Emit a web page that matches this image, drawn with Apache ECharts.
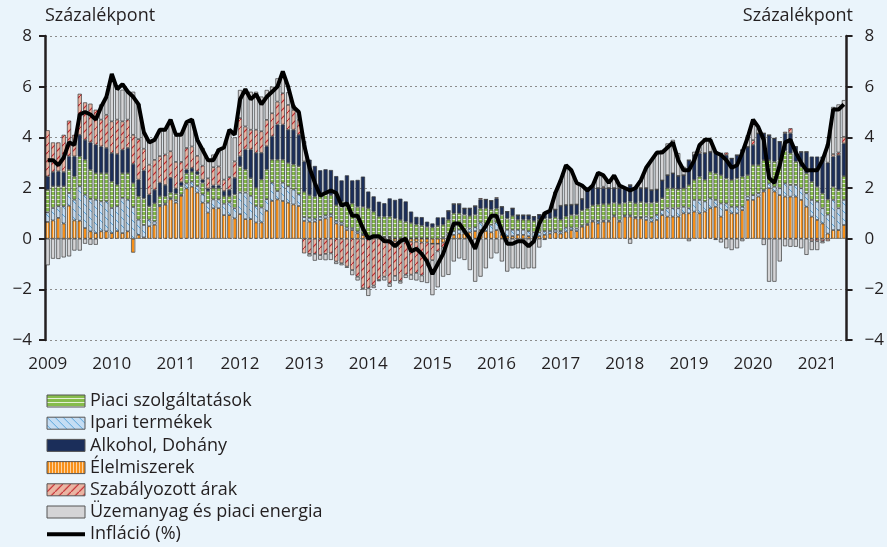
<!DOCTYPE html>
<html><head><meta charset="utf-8">
<script src="https://cdn.jsdelivr.net/npm/echarts@6/dist/echarts.min.js"></script>
<style>html,body{margin:0;padding:0;background:#EAF4FB;}#c{width:887px;height:547px;}</style>
</head><body><div id="c"></div>
<script>
// ---- DATA ----
const years = [2009,2010,2011,2012,2013,2014,2015,2016,2017,2018,2019,2020,2021];
const monthsInLastYear = 6;
const yTicks = [-4,-2,0,2,4,6,8];

const food = [
 .66,.72,.82,.60,1.30,.72,.71,.42,.29,.22,.29,.29,
 .22,.30,.22,.29,-.55,.15,.05,.49,.55,1.28,1.34,1.55,
 1.42,1.69,1.98,2.05,1.82,1.42,1.03,1.20,1.20,.93,.93,.80,
 .97,.77,.77,.64,.64,1.10,1.49,1.55,1.49,1.42,1.35,1.29,
 .70,.67,.67,.74,.80,.87,.60,.54,.34,.34,.21,.14,
 .08,.06,.05,.05,.05,-.10,-.10,-.12,-.12,-.12,-.15,-.15,
 -.20,-.20,-.15,.10,.15,.20,.20,.25,.30,.34,.30,.25,
 .34,.15,.10,.10,.15,.15,.10,.05,.10,.15,.20,.25,
 .20,.28,.34,.30,.47,.54,.67,.60,.67,.67,.87,.67,
 .87,.87,.80,.80,.74,.67,.74,.93,.87,.87,.87,1.00,
 1.00,1.07,1.00,1.07,1.20,1.26,.87,1.13,1.00,1.00,1.13,1.53,
 1.53,1.66,1.86,1.99,1.86,1.72,1.66,1.66,1.66,1.53,1.26,.87,
 .74,.60,.20,.34,.34,.54];
const industrial = [
 .38,.49,.46,.68,.50,.82,1.36,1.32,1.28,1.32,1.18,1.18,
 .99,.98,1.39,1.25,1.25,.60,.49,.26,.13,.05,.05,.05,
 .10,.05,.20,.20,.26,.33,.39,.35,.35,.45,.50,.40,
 .85,1.05,.92,.65,.59,.46,.72,.33,.72,.65,.59,.46,
 .15,.15,.12,.12,.12,.10,.10,.10,.10,.08,.08,.05,
 .03,.02,.02,.02,.02,.02,.02,.02,.02,.02,.02,.02,
 0,0,.05,.10,.15,.15,.15,.15,.15,.30,.30,.30,
 .30,.30,.25,.25,.20,.20,.20,.20,.15,.15,.10,.10,
 .10,.15,.10,.10,.05,.05,.05,.10,.05,.05,.05,.05,
 .05,.05,.05,.05,.13,.15,.20,.20,.33,.33,.33,.26,
 .20,.46,.53,.40,.39,.27,.52,.26,.26,.26,.13,.13,
 .19,.13,.06,.19,.19,.27,.52,.46,.46,.46,.53,.66,
 .72,.60,.75,1.19,.86,.99];
const services = [
 .89,.86,.79,.79,.92,.92,1.18,1.38,1.15,1.05,1.12,1.12,
 1.05,.85,.98,1.05,.95,.92,1.05,.53,.72,.35,.28,.22,
 .26,.34,.40,.39,.46,.46,.46,.45,.45,.30,.25,.55,
 1.04,.91,.70,.72,1.11,1.17,.91,1.24,.91,.92,.99,1.11,
 1.00,.90,.87,.86,.87,.75,.62,.82,.95,.97,.97,1.07,
 1.09,.99,.80,.80,.80,.78,.72,.65,.60,.54,.50,.45,
 .45,.50,.50,.55,.70,.65,.60,.50,.50,.55,.60,.60,
 .55,.50,.45,.55,.40,.40,.45,.45,.50,.50,.50,.50,
 .45,.45,.50,.55,.60,.60,.60,.65,.65,.65,.50,.65,
 .50,.55,.55,.60,.55,.60,.50,.47,.79,.79,.75,.73,
 .92,.79,.92,.86,1.05,1.05,1.12,.99,1.06,1.12,1.19,.85,
 1.19,1.12,1.18,.92,.99,1.10,1.30,1.25,.92,.85,.79,.72,
 .59,.59,.60,.52,.72,.94];
const alcohol = [
 .53,.56,.59,.56,.53,.79,.85,.78,1.08,1.12,1.05,.99,
 1.12,1.21,.92,.99,.75,.66,1.10,.46,.53,.53,.45,.58,
 .20,.15,.15,.15,.12,.12,.10,.10,.10,.20,.25,.65,
 .39,.79,1.13,1.38,1.05,.92,.92,1.38,1.38,1.31,1.37,1.24,
 1.20,1.40,1.21,.98,.95,.99,1.15,.84,1.11,.91,1.06,1.19,
 .66,.60,.59,.53,.72,.73,.84,.80,.45,.30,.33,.20,
 .15,.34,.29,.35,.37,.37,.25,.30,.34,.36,.35,.35,
 .40,.31,.27,.30,.18,.18,.18,.17,.20,.22,.25,.30,
 .55,.45,.40,.40,.45,.80,.70,.65,.63,.63,.58,.63,
 .60,.65,.60,.55,.58,.50,.50,.70,.52,.59,.53,.52,
 .98,.98,.92,1.05,.79,.85,.86,.92,.85,.92,1.05,1.12,
 .79,1.25,1.06,.99,.92,.74,.68,.79,.59,.59,.85,.99,
 1.19,1.45,1.45,1.19,1.38,1.29];
const regulated = [
 1.82,1.17,1.14,1.47,1.41,.85,1.62,1.48,1.53,1.38,1.06,1.31,
 1.25,1.36,1.12,1.12,1.15,1.60,.86,1.18,1.18,1.05,1.20,1.05,
 1.05,.80,.85,.85,.61,.55,.40,.72,.75,.45,.50,.65,
 1.51,.91,.78,.91,.85,1.04,.91,.91,1.24,.98,.78,.59,
 -.58,-.60,-.60,-.65,-.60,-.58,-.90,-.97,-1.10,-1.24,-1.50,-1.96,
 -1.96,-1.85,-1.63,-1.50,-1.76,-1.37,-1.57,-1.30,-1.30,-1.23,-1.30,-.90,
 -.65,-.30,-.20,0,0,0,0,0,0,.05,0,0,
 .04,0,0,0,0,0,0,0,0,0,0,0,
 0,0,0,0,0,0,0,0,.05,0,0,0,
 0,0,0,0,0,0,0,0,0,0,0,0,
 0,0,.07,0,0,0,0,.10,0,0,0,0,
 .19,0,0,0,0,0,.06,.20,0,0,0,-.10,
 -.10,-.10,-.10,.10,.10,.26];
const fuel = [
 -1.05,-.79,-.80,-.74,-.70,-.47,-.47,-.20,-.24,-.24,.60,.70,
 1.58,1.31,1.25,1.12,1.70,1.40,.65,.92,.79,.99,.95,1.24,
 1.02,1.15,.95,1.07,.65,.70,.75,.50,.70,1.30,1.70,.95,
 1.11,1.31,1.50,1.50,1.37,1.18,1.05,.92,.78,.50,.20,.30,
 .80,-.10,-.27,-.18,-.25,-.26,-.10,-.08,-.05,-.20,-.15,-.05,
 -.30,-.10,-.05,-.15,-.14,-.20,-.10,-.13,-.20,-.30,-.26,-.70,
 -1.38,-1.42,-1.15,-1.43,-.90,-.78,-.84,-1.24,-1.70,-1.50,-1.17,-.78,
 -.58,-.90,-1.30,-1.17,-1.17,-1.20,-1.17,-1.17,-.35,-.05,.05,.70,
 1.00,1.55,1.35,.85,.55,0,.05,.60,.40,.20,.50,.10,
 0,-.20,0,.30,.80,1.20,1.45,1.20,1.25,1.32,.90,.33,
 -.10,.13,.25,.59,.45,-.05,-.15,-.38,-.45,-.38,-.10,.45,
 .66,.20,-.25,-1.70,-1.70,-.90,-.30,-.32,-.32,-.38,-.64,-.35,
 -.35,-.08,.75,1.86,1.90,1.45];
const inflation = [
 3.1,3.1,2.9,3.2,3.8,3.7,4.9,5.0,4.9,4.7,5.2,5.6,
 6.5,5.9,6.1,5.8,5.6,5.3,4.2,3.8,3.9,4.3,4.3,4.7,
 4.1,4.1,4.6,4.7,3.9,3.5,3.1,3.1,3.5,3.6,4.3,4.1,
 5.5,5.9,5.5,5.7,5.3,5.6,5.8,6.0,6.6,6.0,5.2,5.0,
 3.7,2.8,2.2,1.7,1.8,1.9,1.8,1.3,1.4,0.9,0.9,0.4,
 0.0,0.1,0.1,-0.1,-0.1,-0.3,-0.1,0.0,-0.5,-0.4,-0.6,-0.9,
 -1.4,-1.0,-0.6,0.0,0.6,0.6,0.3,0.0,-0.4,0.2,0.5,0.9,
 0.9,0.3,-0.2,-0.2,-0.1,-0.1,-0.3,-0.1,0.6,1.0,1.1,1.8,
 2.3,2.9,2.7,2.2,2.1,1.9,2.1,2.6,2.5,2.2,2.5,2.1,
 2.0,1.9,2.0,2.3,2.8,3.1,3.4,3.4,3.6,3.8,3.1,2.7,
 2.7,3.1,3.7,3.9,3.9,3.4,3.3,3.1,2.8,2.9,3.4,4.0,
 4.7,4.4,3.9,2.4,2.2,2.9,3.8,3.9,3.4,3.0,2.7,2.7,
 2.7,3.1,3.7,5.1,5.1,5.3];

const names = {
  serv: 'Piaci szolgáltatások', ind: 'Ipari termékek', alc: 'Alkohol, Dohány',
  food: 'Élelmiszerek', reg: 'Szabályozott árak', fuel: 'Üzemanyag és piaci energia',
  infl: 'Infláció (%)'
};
const axisTitle = 'Százalékpont';

// ---- BUILD ----
const categories = [];
years.forEach(y => {
  const n = (y === years[years.length - 1]) ? monthsInLastYear : 12;
  for (let m = 1; m <= n; m++) categories.push(y + '-' + String(m).padStart(2, '0'));
});

function pattern(w, h, draw) {
  const c = document.createElement('canvas');
  c.width = w; c.height = h;
  const g = c.getContext('2d');
  draw(g, w, h);
  return { image: c, repeat: 'repeat' };
}
const pFood = pattern(3, 2, (g, w, h) => { g.fillStyle = '#F7901A'; g.fillRect(0, 0, w, h); g.fillStyle = '#FCD3A1'; g.fillRect(2, 0, 1, h); });
const pServ = pattern(4, 4, (g, w, h) => { g.fillStyle = '#86BC4B'; g.fillRect(0, 0, w, h); g.fillStyle = '#E4F0D3'; g.fillRect(0, 3, w, 1); });
const pInd = pattern(8, 8, (g, w, h) => {
  g.fillStyle = '#C5DDF3'; g.fillRect(0, 0, w, h);
  g.strokeStyle = '#5AA5DC'; g.lineWidth = 1;
  g.beginPath(); g.moveTo(-1, -1); g.lineTo(w + 1, h + 1); g.stroke();
});
const pReg = pattern(8, 8, (g, w, h) => {
  g.fillStyle = '#EAB5A3'; g.fillRect(0, 0, w, h);
  g.strokeStyle = '#C4262E'; g.lineWidth = 1.2;
  g.beginPath(); g.moveTo(-1, h + 1); g.lineTo(w + 1, -1); g.stroke();
});

const FONT = '"Open Sans", Lato, sans-serif';
const TXT = '#231f20';
const border = { borderColor: '#3a3a3a', borderWidth: 0.7 };

function barSeries(name, data, color) {
  return {
    name, type: 'bar', stack: 'total', stackStrategy: 'samesign', data,
    barCategoryGap: '22%',
    itemStyle: Object.assign({ color }, border),
    emphasis: { disabled: true }, animation: false
  };
}

const series = [
  barSeries(names.food, food, pFood),
  barSeries(names.ind, industrial, pInd),
  barSeries(names.serv, services, pServ),
  barSeries(names.alc, alcohol, '#1B2E5A'),
  barSeries(names.reg, regulated, pReg),
  barSeries(names.fuel, fuel, '#D4D4D6'),
  {
    name: names.infl, type: 'line', data: inflation, symbol: 'none', z: 10,
    lineStyle: { color: '#000', width: 4 }, itemStyle: { color: '#000' },
    emphasis: { disabled: true }, animation: false
  }
];

const yAxisBase = (pos) => ({
  type: 'value', position: pos, min: yTicks[0], max: yTicks[yTicks.length - 1], interval: 2,
  axisLine: { show: true, onZero: false, lineStyle: { color: TXT, width: 2.5 } },
  axisTick: { show: true, length: 6, lineStyle: { color: TXT, width: 2 } },
  axisLabel: {
    fontSize: 17, color: TXT, fontFamily: FONT, margin: pos === 'left' ? 13 : 18,
    formatter: v => v < 0 ? '\u2212' + Math.abs(v) : String(v)
  },
  splitLine: { show: pos === 'left', lineStyle: { color: '#8c8c8c', type: [2, 3], width: 1 } }
});

const legendItem = (name) => ({ name, icon: 'rect' });

const chart = echarts.init(document.getElementById('c'), null, { renderer: 'canvas' });
chart.setOption({
  backgroundColor: '#EAF4FB',
  animation: false,
  textStyle: { fontFamily: FONT },
  grid: { left: 45, right: 34, top: 36, bottom: 207 },
  xAxis: {
    type: 'category', data: categories, boundaryGap: true,
    axisLine: { show: false }, axisTick: { show: false }, splitLine: { show: false },
    axisLabel: { interval: 11, fontSize: 17, color: TXT, fontFamily: FONT, margin: 16,
      formatter: v => v.slice(0, 4) }
  },
  yAxis: [yAxisBase('left'), yAxisBase('right')],
  legend: {
    orient: 'vertical', left: 45, top: 392, padding: 0, itemWidth: 38, itemHeight: 12, itemGap: 4.2,
    height: 160,
    selectedMode: false,
    textStyle: { fontSize: 18, lineHeight: 18, color: TXT, fontFamily: FONT },
    itemStyle: { borderColor: '#555', borderWidth: 1 },
    data: [
      legendItem(names.serv), legendItem(names.ind), legendItem(names.alc),
      legendItem(names.food), legendItem(names.reg), legendItem(names.fuel),
      { name: names.infl, itemStyle: { opacity: 0 }, lineStyle: { width: 4, color: '#000' } }
    ]
  },
  graphic: [
    { type: 'text', left: 45, top: 7, style: { text: axisTitle, fontSize: 18, fontFamily: FONT, fill: TXT } },
    { type: 'text', right: 34, top: 7, style: { text: axisTitle, fontSize: 18, fontFamily: FONT, fill: TXT } }
  ],
  series
});
</script>
</body></html>
